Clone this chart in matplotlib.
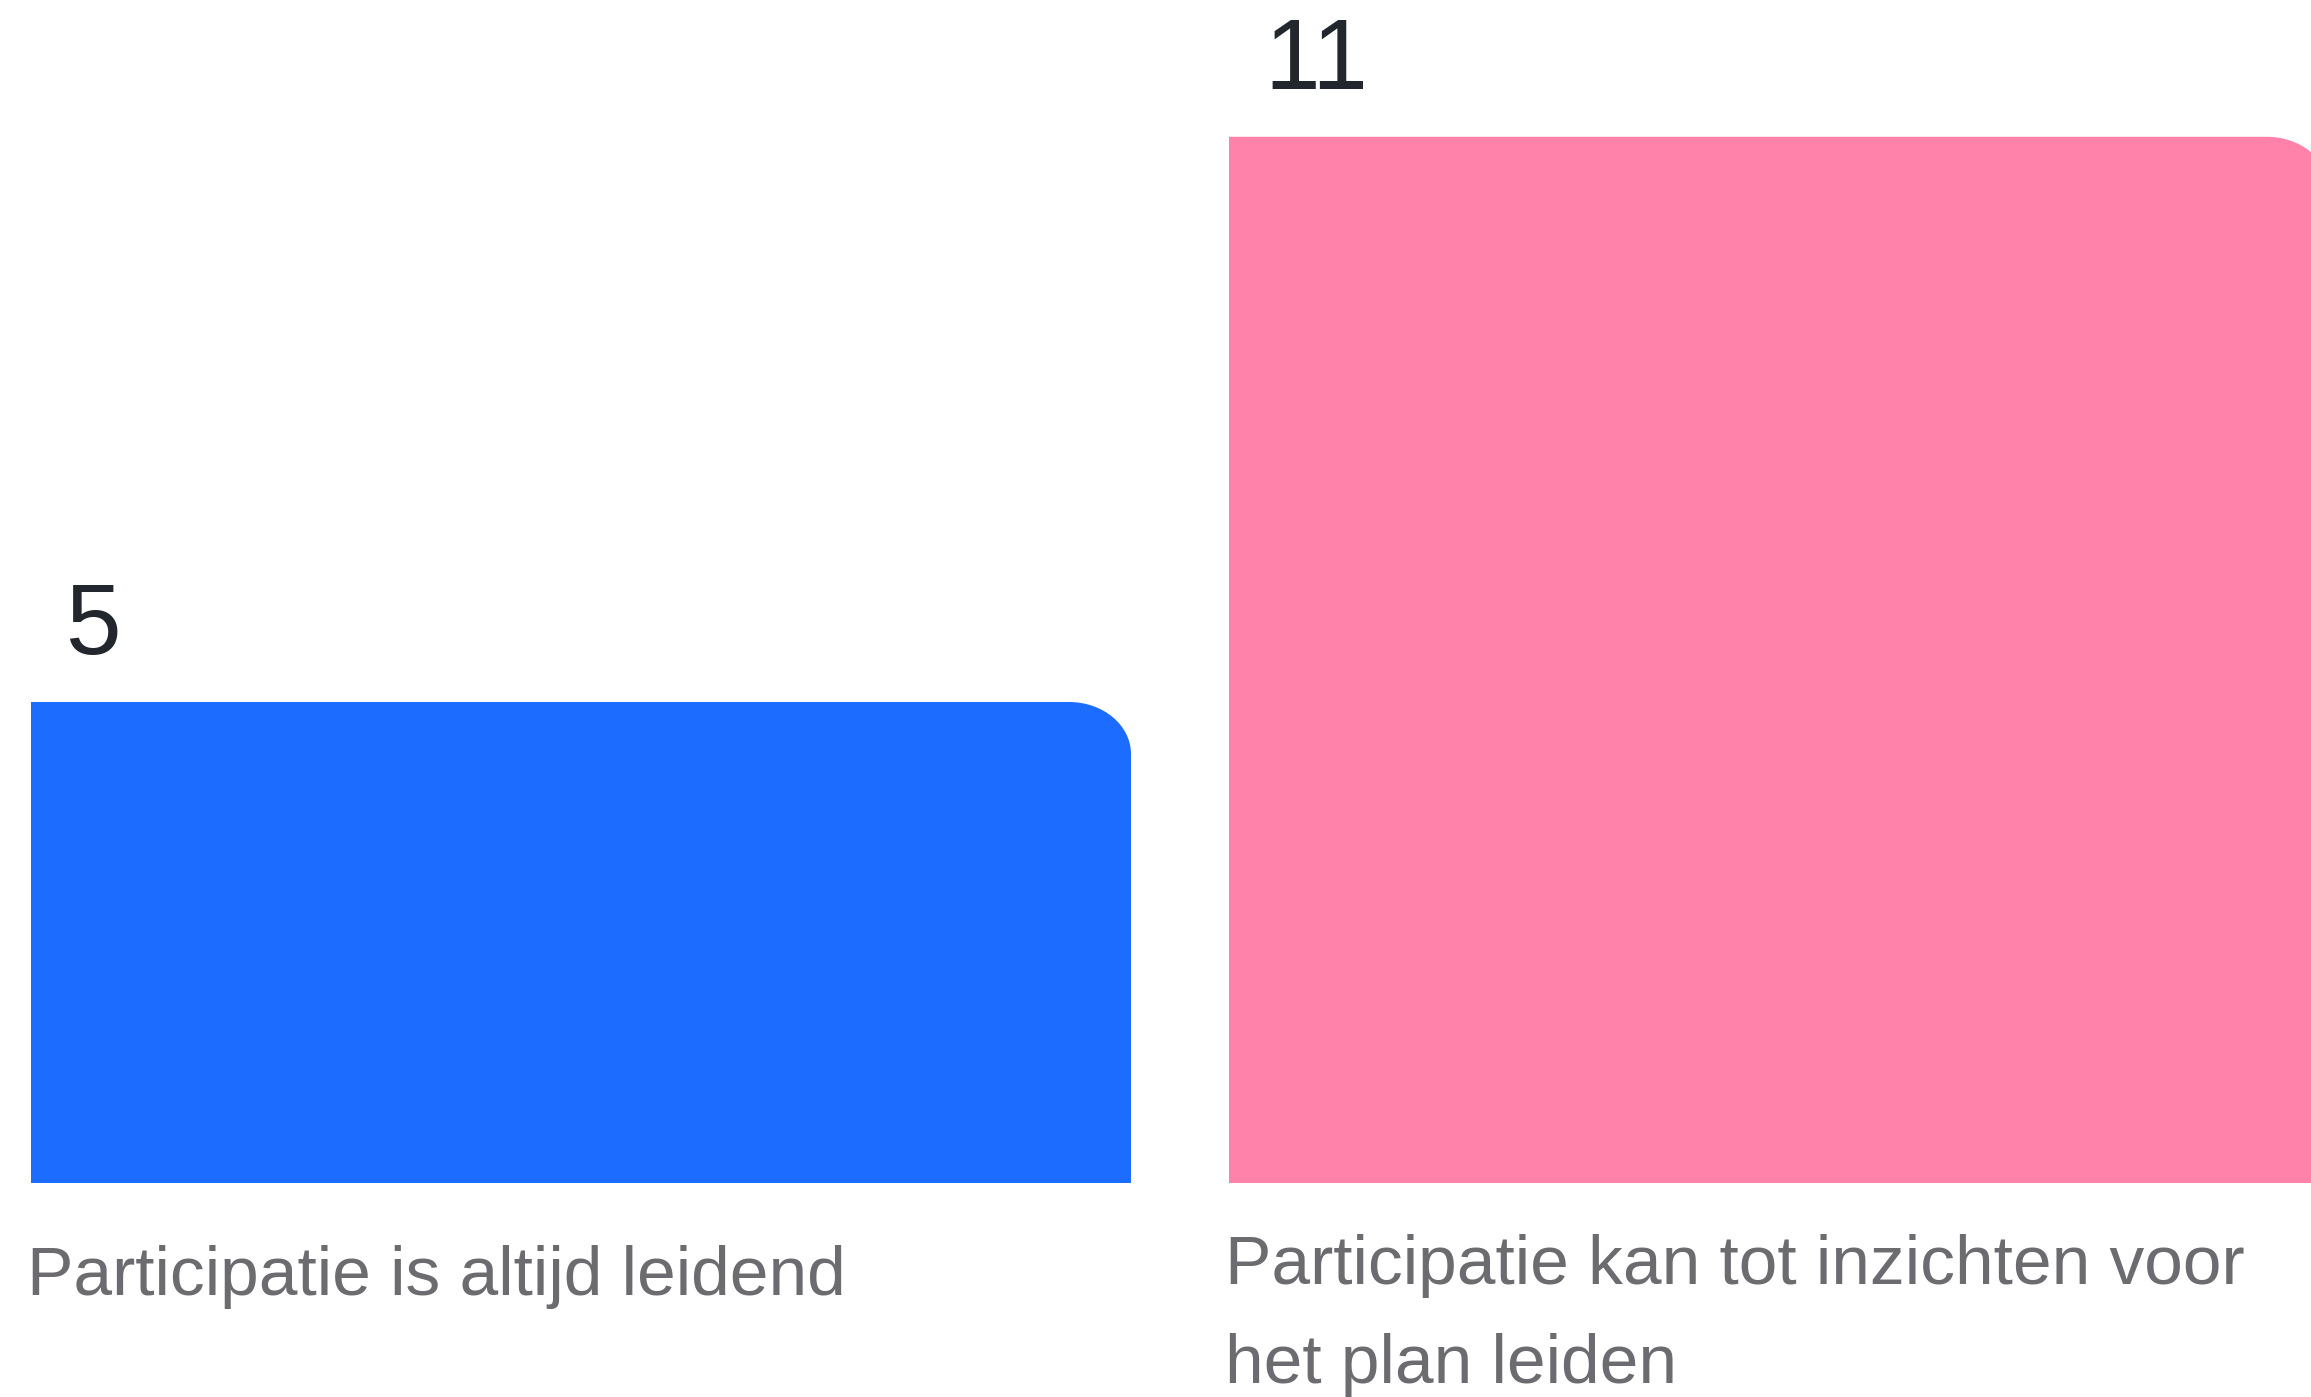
"""
Bar chart: participatie (two answers, counts).
"""

import matplotlib

matplotlib.use("Agg")
import matplotlib.pyplot as plt
from matplotlib.path import Path
from matplotlib.patches import PathPatch

# Data
categories = [
    "Participatie is altijd leidend",
    "Participatie kan tot inzichten voor\nhet plan leiden",
]
counts = [5, 11]
bar_colors = ["#1b6cff", "#ff82aa"]

W, H, DPI = 2311, 1397, 100
PX = 72.0 / DPI  # points per pixel


def rounded_bar(ax, x0, x1, base, top, rx, ry, color):
    """Bar with only its top-right corner rounded."""
    k = 0.5523
    verts = [
        (x0, base),
        (x0, top),
        (x1 - rx, top),
        (x1 - rx + k * rx, top),
        (x1, top - ry + k * ry),
        (x1, top - ry),
        (x1, base),
        (x0, base),
    ]
    codes = [
        Path.MOVETO,
        Path.LINETO,
        Path.LINETO,
        Path.CURVE4,
        Path.CURVE4,
        Path.CURVE4,
        Path.LINETO,
        Path.CLOSEPOLY,
    ]
    ax.add_patch(PathPatch(Path(verts, codes), facecolor=color, edgecolor="none"))


def main():
    fig = plt.figure(figsize=(W / DPI, H / DPI), dpi=DPI)
    bottom_px = 214
    ax = fig.add_axes([0, bottom_px / H, 1, 1 - bottom_px / H])

    px_per_x = 1198.0
    px_per_y = 94.2
    base = -10.0 / px_per_y  # bars run slightly below the zero line
    width = 1100.0 / px_per_x
    ax.set_xlim(-581.0 / px_per_x, (W - 581.0) / px_per_x)
    ax.set_ylim(base, base + (H - bottom_px) / px_per_y)
    ax.axis("off")

    rx = 62.0 / px_per_x
    ry = 52.0 / px_per_y

    # baseline of the last label line, px below the bars
    label_drop = [112, 200]
    for i, (cat, val, col) in enumerate(zip(categories, counts, bar_colors)):
        left = i - width / 2
        rounded_bar(ax, left, left + width, base, val, rx, ry, col)

        # value above the bar
        ax.annotate(
            str(val),
            xy=(left, val),
            xytext=(35 * PX, 48 * PX),
            textcoords="offset points",
            ha="left",
            va="baseline",
            fontsize=72,
            color="#22272e",
            family=["Liberation Sans", "DejaVu Sans"],
        )

        # category label under the bar
        ax.annotate(
            cat,
            xy=(left, base),
            xytext=(-4 * PX, -label_drop[i] * PX),
            textcoords="offset points",
            ha="left",
            va="baseline",
            fontsize=50,
            color="#6b6b70",
            linespacing=1.69,
            family=["Liberation Sans", "DejaVu Sans"],
        )

    fig.savefig("out.png", dpi=DPI, facecolor="white")
    plt.close(fig)


if __name__ == "__main__":
    main()
